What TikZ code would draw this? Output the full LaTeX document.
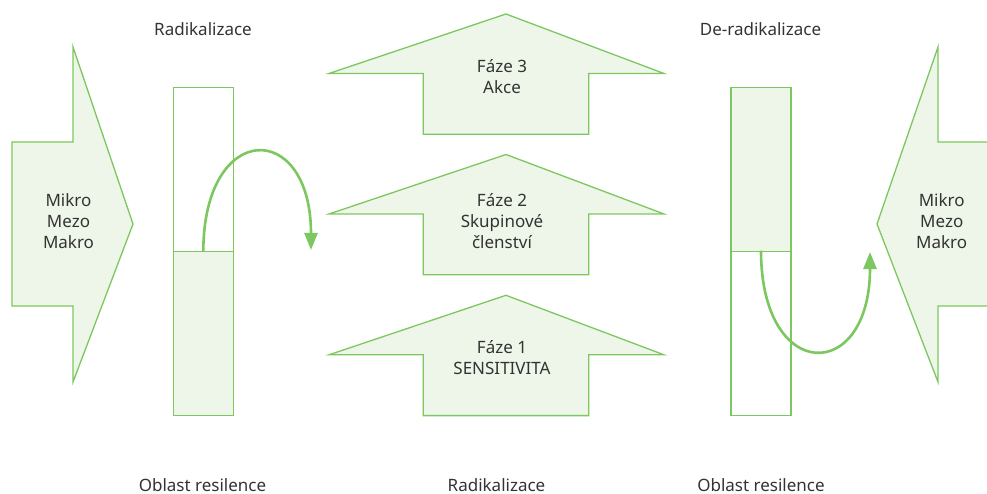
\documentclass[tikz,border=0pt]{standalone}
\usepackage{fontspec}
\setmainfont{Noto Sans}
\usetikzlibrary{arrows.meta, positioning}
\definecolor{leafline}{HTML}{7DC760}
\definecolor{leaffill}{HTML}{EEF6E9}
\definecolor{inkgray}{HTML}{333333}
\tikzset{
  every node/.style={text=inkgray, font=\fontsize{17}{21}\selectfont, align=center},
  block/.style={draw=leafline, fill=leaffill, line width=1.3pt, line join=miter},
  plain/.style={draw=leafline, fill=white, line width=1.3pt},
  half/.style={rectangle, inner sep=0pt, minimum width=60pt, minimum height=164pt},
  move/.style={draw=leafline, line width=2.6pt, -{Triangle[length=17pt,width=13pt]}}
}

\begin{document}
\begin{tikzpicture}[x=1pt, y=-1pt]
  \useasboundingbox (0,0) rectangle (987,494);
  \clip (0,0) rectangle (987,494);

  % outer influence arrows
  \draw[block] (12,142) -- (73,142) -- (73,47) -- (133,224) -- (73,382) -- (73,306) -- (12,306) -- cycle;
  \draw[block] (1000,142) -- (938,142) -- (938,47) -- (877,224) -- (938,382) -- (938,306) -- (1000,306) -- cycle;
  \node[anchor=base] (levelsL) at (68.5,248.3) {Mikro\\Mezo\\Makro};
  \node[anchor=base] (levelsR) at (941.7,248.3) {Mikro\\Mezo\\Makro};

  % resilience columns
  \node[half, plain] (colLtop) at (203.3,169.2) {};
  \node[half, block] (colLbot) at (203.3,333.3) {};
  \node[half, block] (colRtop) at (761,169.2) {};
  \node[half, plain] (colRbot) at (761,333.3) {};

  % phases (base anchor sits on the last line)
  \foreach \n/\tip/\txt/\lbl in {3/14/93.7/{Fáze 3\\Akce}, 2/154.5/248.7/{Fáze 2\\Skupinové\\členství}, 1/295.3/374.3/{Fáze 1\\SENSITIVITA}}{
    \draw[block] (506,\tip) -- (664,\tip+59.5) -- (588.7,\tip+59.5) -- (588.7,\tip+120.3)
      -- (423.3,\tip+120.3) -- (423.3,\tip+59.5) -- (329,\tip+59.5) -- cycle;
    \node[anchor=base] (phase\n) at (502,\txt) {\lbl};
  }

  % labels
  \node[anchor=base] (radTop) at (203,36) {Radikalizace};
  \node[anchor=base] (deradTop) at (760.5,36) {De-radikalizace};
  \node[anchor=base] (resL) at (202.5,491) {Oblast resilence};
  \node[anchor=base] (radBot) at (496.5,491) {Radikalizace};
  \node[anchor=base] (resR) at (761,491) {Oblast resilence};

  % movements
  \coordinate (tipL) at (311,250);
  \coordinate (tipR) at (870,252);
  \draw[move] (colLtop.south) .. controls +(0,-132) and +(0,-131) .. (tipL);
  \draw[move] (colRbot.north) .. controls +(0,133) and +(0,132) .. (tipR);
\end{tikzpicture}
\end{document}
